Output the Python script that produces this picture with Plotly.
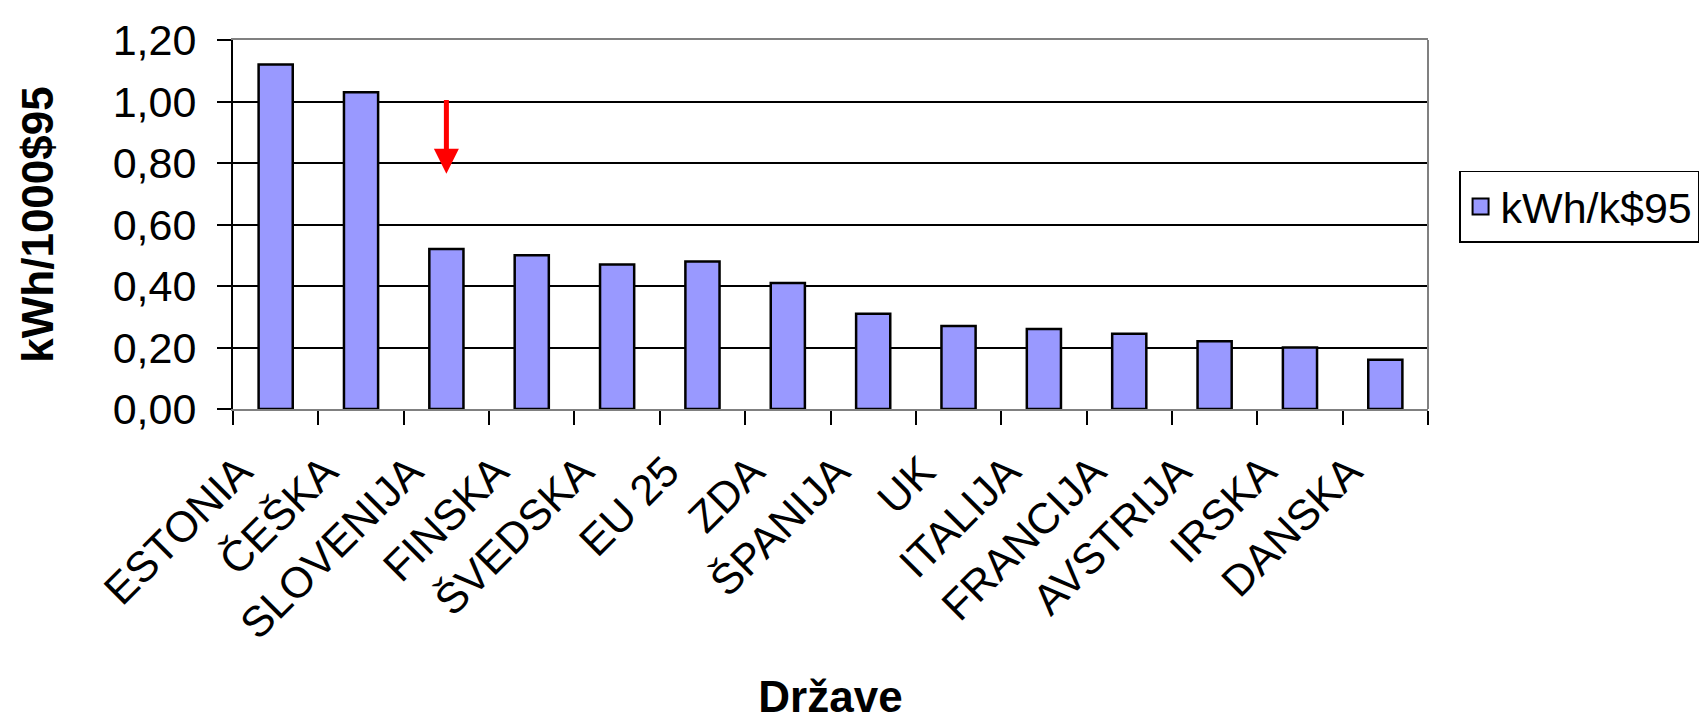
import plotly.graph_objects as go

countries = ["ESTONIA", "ČEŠKA", "SLOVENIJA", "FINSKA", "ŠVEDSKA", "EU 25", "ZDA",
             "ŠPANIJA", "UK", "ITALIJA", "FRANCIJA", "AVSTRIJA", "IRSKA", "DANSKA"]
values = [1.12, 1.03, 0.52, 0.50, 0.47, 0.48, 0.41, 0.31, 0.27, 0.26, 0.245, 0.22, 0.20, 0.16]
series_name = "kWh/k$95"
y_ticks = [0.0, 0.2, 0.4, 0.6, 0.8, 1.0, 1.2]

FONT = "Liberation Sans, Arial, sans-serif"
BAR_COLOR = "#9999FF"

fig = go.Figure()
fig.add_trace(go.Bar(
    x=countries, y=values, name=series_name,
    marker=dict(color=BAR_COLOR, line=dict(color="black", width=2.5)),
    showlegend=False,
))
# legend entry (square swatch like the original)
fig.add_trace(go.Scatter(
    x=[None], y=[None], mode="markers", name=series_name,
    marker=dict(symbol="square", size=30, color=BAR_COLOR, line=dict(color="black", width=2)),
    showlegend=True,
))

fig.add_annotation(
    x=countries[2], y=0.765, ax=countries[2], ay=1.01,
    xref="x", yref="y", axref="x", ayref="y",
    showarrow=True, arrowhead=2, arrowsize=1, arrowwidth=5, arrowcolor="#FF0000", text="",
)

fig.add_shape(type="line", xref="paper", yref="paper", x0=1, x1=1, y0=0, y1=1,
              line=dict(color="#808080", width=2))

fig.update_layout(
    width=1708, height=722,
    margin=dict(l=225, r=288, t=32, b=321, autoexpand=False),
    paper_bgcolor="white", plot_bgcolor="white",
    font=dict(family=FONT, size=43, color="black"),
    separators=", ",
    bargap=0.6,
    showlegend=True,
    legend=dict(x=1.026, y=0.646, xanchor="left", yanchor="top",
                bordercolor="black", borderwidth=1.5,
                font=dict(size=43), itemsizing="trace"),
    xaxis=dict(
        title=dict(text="<b>Države</b>", font=dict(size=44), standoff=34),
        tickangle=-45, tickson="boundaries", ticks="outside", ticklen=14,
        tickcolor="black", tickwidth=1.5,
        ticklabelstandoff=18, ticklabelshift=-36,
        showline=True, linecolor="#808080", linewidth=2, mirror=True,
        showgrid=False, automargin=False,
    ),
    yaxis=dict(
        title=dict(text="<b>kWh/1000$95</b>", font=dict(size=44), standoff=45),
        range=[0, 1.2], tickvals=y_ticks, tickformat=".2f",
        ticks="outside", ticklen=14, tickcolor="black", tickwidth=1.5,
        ticklabelstandoff=12,
        showline=True, linecolor="black", linewidth=2,
        showgrid=True, gridcolor="black", gridwidth=1.5,
        zeroline=False, automargin=False,
    ),
)

fig.write_html("out.html")
